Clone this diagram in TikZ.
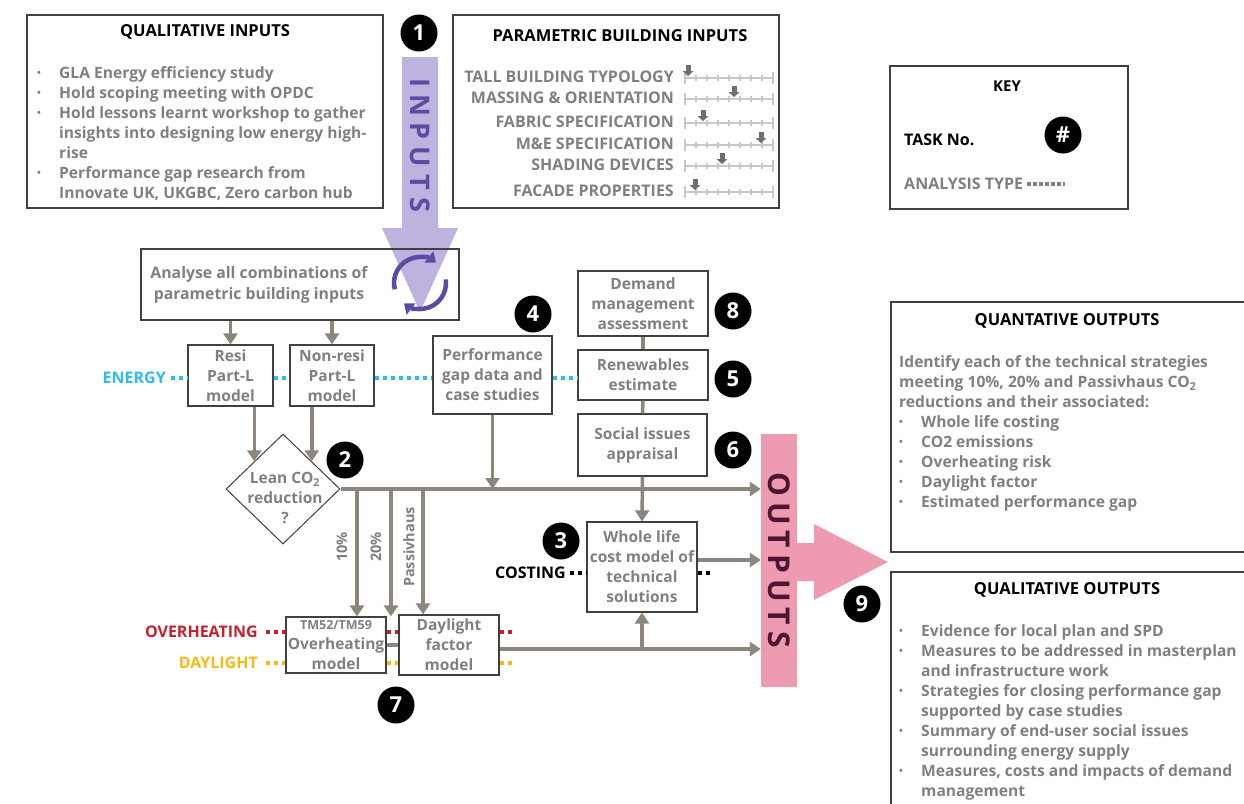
\documentclass[tikz,border=0pt]{standalone}
\usepackage{fontspec}
\setmainfont{Open Sans}
\usetikzlibrary{shapes.geometric,arrows.meta,calc}
\definecolor{txtgray}{HTML}{808080}
\definecolor{arrgray}{HTML}{8E857C}
\definecolor{boxline}{HTML}{404040}
\definecolor{lav}{HTML}{BEB3DE}
\definecolor{purp}{HTML}{5A4BA3}
\definecolor{pinkc}{HTML}{EE9AB1}
\definecolor{maroon}{HTML}{4D1533}
\definecolor{cyanc}{HTML}{2DBDF0}
\definecolor{redc}{HTML}{C42030}
\definecolor{yelc}{HTML}{F7BA14}
\definecolor{slgray}{HTML}{C8C8C8}
\definecolor{mkgray}{HTML}{6E6E6E}
\newcommand{\mybul}{\makebox[22pt][l]{\fontsize{10}{10}\selectfont\raisebox{1.5pt}{•}}}
\newcommand{\myind}{\hspace*{22pt}}
\begin{document}
\begin{tikzpicture}[x=1pt,y=-1pt,
 boxframe/.style={draw=boxline, line width=1.2pt, inner sep=0pt},
 box/.style={boxframe, fill=white, text=txtgray, font=\bfseries\fontsize{15.5}{20}\selectfont, align=center},
 ttl/.style={font=\bfseries\fontsize{16.5}{18}\selectfont, text=black, inner sep=0pt},
 body/.style={font=\bfseries\fontsize{15.6}{20}\selectfont, text=txtgray, align=left, inner sep=0pt, anchor=north west},
 num/.style={circle, fill=black, text=white, minimum size=37pt, inner sep=0pt, font=\bfseries\fontsize{22}{22}\selectfont},
 garrow/.style={draw=arrgray, line width=3.5pt, -{Triangle[width=14pt,length=11pt]}},
 gline/.style={draw=arrgray, line width=3.5pt},
 dots/.style={line width=4pt, dash pattern=on 4pt off 4pt},
 lbl/.style={font=\bfseries\fontsize{16}{18}\selectfont, inner sep=0pt, anchor=east},
 vlbl/.style={rotate=90, text=txtgray, font=\bfseries\fontsize{14.5}{17}\selectfont, inner sep=0pt},
 sl/.style={draw=slgray, line width=1.5pt},
 icon/.style={purp, line width=4.5pt, -{Triangle[width=14pt,length=9pt]}},
]
\useasboundingbox (0,0) rectangle (1244,803);
\fill[white] (0,0) rectangle (1244,803);

% ---------- qualitative inputs
\node[boxframe, minimum width=356, minimum height=193] (qualin) at (205,111.5) {};
\node[ttl] (qualint) at (205,32) {QUALITATIVE INPUTS};
\node[body] (qualinb) at (37,66) {\mybul GLA Energy efficiency study\\
\mybul Hold scoping meeting with OPDC\\
\mybul Hold lessons learnt workshop to gather\\
\myind insights into designing low energy high-\\
\myind rise\\
\mybul Performance gap research from\\
\myind Innovate UK, UKGBC, Zero carbon hub};

% ---------- parametric inputs
\node[boxframe, minimum width=326, minimum height=193] (param) at (616,111.5) {};
\node[ttl] (paramt) at (620,36) {PARAMETRIC BUILDING INPUTS};
\foreach \yy/\mm/\lab [count=\i] in {78/688/TALL BUILDING TYPOLOGY, 99/734/MASSING \& ORIENTATION, 123/703/FABRIC SPECIFICATION, 145/761/M\&E SPECIFICATION, 166/722/SHADING DEVICES, 192/695/FACADE PROPERTIES}{
  \node[lbl, text=txtgray] (plab\i) at (674,\yy-1) {\lab};
  \draw[sl] (685,\yy) -- (773,\yy);
  \draw[sl] (685,\yy-6) -- (685,\yy+6);
  \draw[sl] (773,\yy-6) -- (773,\yy+6);
  \foreach \k in {1,...,7}{\draw[sl] (685+11*\k,\yy-3) -- (685+11*\k,\yy+3);}
  \fill[mkgray] (\mm-2.5,\yy-13) rectangle (\mm+2.5,\yy-7);
  \fill[mkgray] (\mm-5.5,\yy-7) -- (\mm+5.5,\yy-7) -- (\mm,\yy-2) -- cycle;
}

% ---------- key
\node[boxframe, minimum width=238, minimum height=143] (key) at (1009,137.5) {};
\node[ttl, font=\bfseries\fontsize{15}{18}\selectfont] (keyt) at (1007,86) {KEY};
\node[lbl, anchor=west, text=black] (task) at (904,140) {TASK No.};
\node[num] (keynum) at (1063,135) {\#};
\node[lbl, anchor=west, text=txtgray] (atype) at (904,184) {ANALYSIS TYPE};
\draw[line width=3.5pt, txtgray, dash pattern=on 4pt off 2pt] ([xshift=4pt]atype.east) -- ([xshift=42pt]atype.east);

% ---------- inputs arrow
\fill[lav] (402,57) -- (438,57) -- (438,228) -- (458,228) -- (420,312) -- (382,228) -- (402,228) -- cycle;
\node[rotate=-90, text=purp, font=\bfseries\fontsize{27}{27}\selectfont, inner sep=0pt] (inputs) at (420,145) {I\kern7pt N\kern7pt P\kern7pt U\kern7pt T\kern7pt S};
\node[num] (n1) at (419,33) {1};

% ---------- analyse box
\node[boxframe, minimum width=318, minimum height=71] (analyse) at (300,284.5) {};
\node[text=txtgray, font=\bfseries\fontsize{15.8}{21}\selectfont, align=center, inner sep=0pt] (analyset) at (259,284.5) {Analyse all combinations of\\parametric building inputs};
\coordinate (ic) at (420,283);
\draw[icon] ($(ic)+(166:26)$) arc[start angle=166, end angle=308, radius=26];
\draw[icon] ($(ic)+(-8:26)$) arc[start angle=-8, end angle=128, radius=26];

% ---------- model boxes
\node[box, minimum width=85, minimum height=61] (resi) at (230.5,375.5) {Resi\\Part-L\\model};
\node[box, minimum width=84, minimum height=61] (nonresi) at (332,375.5) {Non-resi\\Part-L\\model};
\node[box, minimum width=119, minimum height=78] (perf) at (492.5,375) {Performance\\gap data and\\case studies};
\node[box, minimum width=130, minimum height=65] (demand) at (643,303.5) {Demand\\management\\assessment};
\node[box, minimum width=130, minimum height=50] (renew) at (643,375) {Renewables\\estimate};
\node[box, minimum width=129, minimum height=62] (social) at (642.5,445) {Social issues\\appraisal};
\node[box, minimum width=110, minimum height=90] (whole) at (642,567) {Whole life\\cost model of\\technical\\solutions};
\node[box, minimum width=100, minimum height=56] (over) at (336,645) {{\fontsize{12.5}{14}\selectfont TM52/TM59}\\Overheating\\model};
\node[box, minimum width=100, minimum height=60] (day) at (449,645) {Daylight\\factor\\model};
\node[draw=boxline, line width=1pt, diamond, minimum width=114, minimum height=110, inner sep=0pt, fill=white] (lean) at (283,489) {};
\node[text=txtgray, font=\bfseries\fontsize{15.5}{20}\selectfont, align=center, inner sep=0pt] (leant) at (285,498) {Lean CO\textsubscript{2}\\reduction\\?};

% ---------- outputs arrow
\fill[pinkc] (797,543) -- (814,543) -- (814,524) -- (888,562) -- (814,600) -- (814,581) -- (797,581) -- cycle;
\node[fill=pinkc, minimum width=36, minimum height=253, inner sep=0pt] (outbar) at (779,560.5) {};
\node[rotate=-90, text=maroon, font=\bfseries\fontsize{30}{30}\selectfont, inner sep=0pt] (outtxt) at (779,560) {O\kern6pt U\kern6pt T\kern6pt P\kern6pt U\kern6pt T\kern6pt S};

% ---------- connectors
\draw[garrow] (analyse.south -| resi) -- (resi.north);
\draw[garrow] (analyse.south -| nonresi) -- (nonresi.north);
\draw[garrow] (resi.south -| lean.north west) -- (lean.north west);
\draw[garrow] (nonresi.south -| lean.north east) -- (lean.north east);
\draw[garrow] (lean.east) -- (lean.east -| outbar.west);
\draw[garrow] (perf.south) -- (perf.south |- lean.east);
\draw[gline] (demand.south) -- (renew.north);
\draw[gline] (renew.south) -- (social.north);
\draw[garrow] (social.south) -- (whole.north);
\coordinate (p10) at (357,489);
\coordinate (p20) at (391,489);
\coordinate (pph) at (423,489);
\draw[garrow] (p10) -- (p10 |- over.north);
\draw[garrow] (p20) -- (p20 |- over.north);
\draw[garrow] (pph) -- (pph |- day.north);
\node[vlbl] (l10) at (342,547) {10\%};
\node[vlbl] (l20) at (376,547) {20\%};
\node[vlbl] (lph) at (409,547) {Passivhaus};
\draw[gline] (over.east) -- (day.west);
\draw[garrow] ([yshift=-4pt]day.east) -- ([yshift=-4pt]day.east -| outbar.west);
\draw[garrow] ([yshift=-4pt]day.east -| whole.south) -- (whole.south);
\draw[garrow] ([yshift=7pt]whole.east) -- ([yshift=7pt]whole.east -| outbar.west);

% ---------- analysis type labels and dotted lines
\node[lbl, text=cyanc] (energy) at (166,378) {ENERGY};
\draw[dots, cyanc] ([xshift=5pt]energy.east) -- (energy.east -| resi.west);
\draw[dots, cyanc] (energy.east -| resi.east) -- (energy.east -| nonresi.west);
\draw[dots, cyanc] (energy.east -| nonresi.east) -- (energy.east -| perf.west);
\draw[dots, cyanc] (energy.east -| perf.east) -- (energy.east -| renew.west);

\node[lbl, text=redc] (overlbl) at (258,632) {OVERHEATING};
\coordinate (ovend) at (515,632);
\draw[dots, redc] ([xshift=8pt]overlbl.east) -- (overlbl.east -| over.west);
\draw[dots, redc] (overlbl.east -| over.east) -- (overlbl.east -| day.west);
\draw[dots, redc] (overlbl.east -| day.east) -- (ovend);

\node[lbl, text=yelc] (daylbl) at (258,663) {DAYLIGHT};
\coordinate (dyend) at (515,663);
\draw[dots, yelc] ([xshift=8pt]daylbl.east) -- (daylbl.east -| over.west);
\draw[dots, yelc] (daylbl.east -| over.east) -- (daylbl.east -| day.west);
\draw[dots, yelc] (daylbl.east -| day.east) -- (dyend);

\node[lbl, text=black] (costlbl) at (566,573) {COSTING};
\coordinate (coend) at (713,573);
\draw[dots, black] ([xshift=4pt]costlbl.east) -- (costlbl.east -| whole.west);
\draw[dots, black] (costlbl.east -| whole.east) -- (coend);

% ---------- numbers
\node[num] (n2) at (345,460) {2};
\node[num] (n3) at (561,541) {3};
\node[num] (n4) at (533,314) {4};
\node[num] (n5) at (733,379) {5};
\node[num] (n6) at (733,450) {6};
\node[num] (n7) at (396,705) {7};
\node[num] (n8) at (733,311) {8};
\node[num] (n9) at (862,604) {9};

% ---------- outputs boxes
\node[boxframe, minimum width=361, minimum height=250] (quant) at (1071.5,427) {};
\node[ttl] (quantt) at (1067,321) {QUANTATIVE OUTPUTS};
\node[body] (quantb) at (899,355) {Identify each of the technical strategies\\
meeting 10\%, 20\% and Passivhaus CO\textsubscript{2}\\
reductions and their associated:\\
\mybul Whole life costing\\
\mybul CO2 emissions\\
\mybul Overheating risk\\
\mybul Daylight factor\\
\mybul Estimated performance gap};

\node[boxframe, minimum width=361, minimum height=240] (qualout) at (1071.5,692) {};
\node[ttl] (qualoutt) at (1067,590) {QUALITATIVE OUTPUTS};
\node[body] (qualoutb) at (899,624) {\mybul Evidence for local plan and SPD\\
\mybul Measures to be addressed in masterplan\\
\myind and infrastructure work\\
\mybul Strategies for closing performance gap\\
\myind supported by case studies\\
\mybul Summary of end-user social issues\\
\myind surrounding energy supply\\
\mybul Measures, costs and impacts of demand\\
\myind management};
\end{tikzpicture}
\end{document}
